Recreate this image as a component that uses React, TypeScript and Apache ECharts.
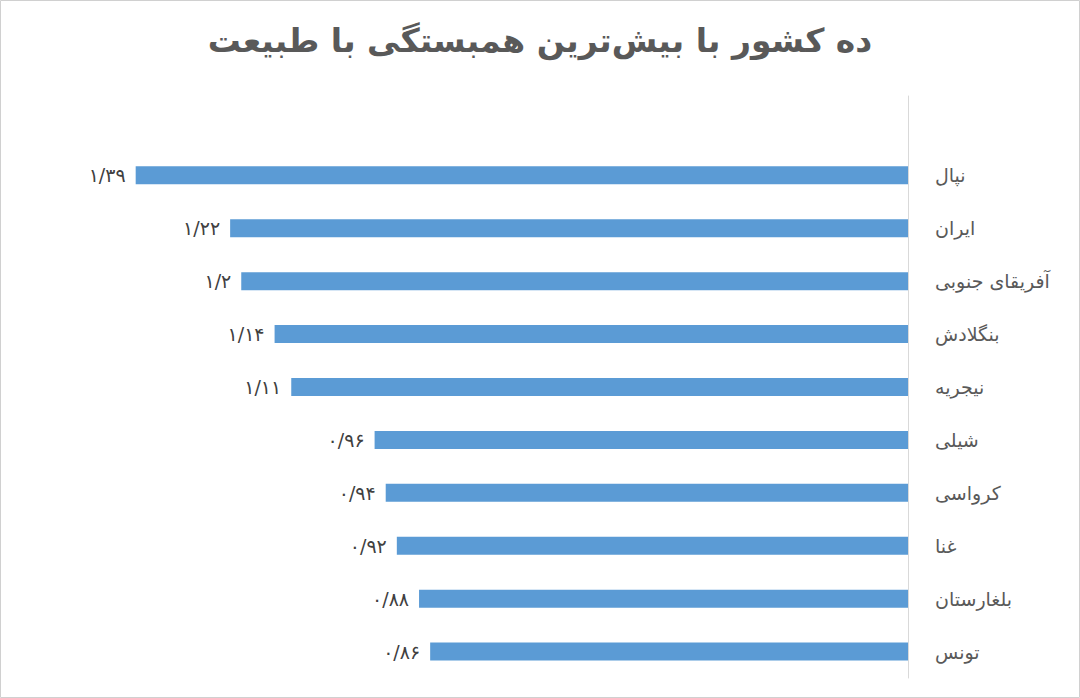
import * as echarts from "echarts";
import React, { useEffect, useRef } from "react";

// the top row is empty in the original chart (blank row above Nepal)
const countries = [
  "",
  "نپال",
  "ایران",
  "آفریقای جنوبی",
  "بنگلادش",
  "نیجریه",
  "شیلی",
  "کرواسی",
  "غنا",
  "بلغارستان",
  "تونس",
];
const scores = [null, 1.39, 1.22, 1.2, 1.14, 1.11, 0.96, 0.94, 0.92, 0.88, 0.86];

const chartTitle = "ده کشور با بیش‌ترین همبستگی با طبیعت";

// Persian digits, "/" as decimal separator (fa-IR locale)
const faDigits = "۰۱۲۳۴۵۶۷۸۹";
const toPersian = (v: number) =>
  String(v)
    .replace(/[0-9]/g, (d) => faDigits[+d])
    .replace(".", "/");

const App: React.FC = () => {
  const chartRef = useRef<HTMLDivElement | null>(null);

  useEffect(() => {
    const chart = echarts.init(chartRef.current, null, { renderer: "svg" });
    chart.setOption({
      animation: false,
      backgroundColor: "#ffffff",
      textStyle: { fontFamily: "DejaVu Sans" },
      title: {
        text: chartTitle,
        left: "center",
        top: 19,
        textStyle: {
          fontSize: 33,
          fontWeight: "bold",
          color: "#595959",
          fontFamily: "DejaVu Sans",
        },
      },
      graphic: [
        {
          type: "rect",
          shape: { x: 0.5, y: 0.5, width: 1079, height: 697 },
          style: { fill: "none", stroke: "#d0d0d0", lineWidth: 1 },
          silent: true,
        },
      ],
      grid: { left: 19, right: 172, top: 96, bottom: 20 },
      xAxis: {
        type: "value",
        min: 0,
        max: 1.6,
        inverse: true,
        show: false,
      },
      yAxis: {
        type: "category",
        data: countries,
        inverse: true,
        position: "right",
        axisLine: { show: true, lineStyle: { color: "#d9d9d9", width: 1 } },
        axisTick: { show: false },
        axisLabel: {
          margin: 27,
          fontSize: 19,
          color: "#595959",
          fontFamily: "DejaVu Sans",
        },
      },
      series: [
        {
          type: "bar",
          data: scores,
          barWidth: 18,
          itemStyle: { color: "#5b9bd5" },
          label: {
            show: true,
            position: "left",
            distance: 10,
            fontSize: 19,
            color: "#404040",
            fontFamily: "DejaVu Sans",
            formatter: (p: any) => toPersian(p.value),
          },
        },
      ],
    });

    return () => {
      chart.dispose();
    };
  }, []);

  return (
    <div
      ref={chartRef}
      style={{ position: "fixed", left: 0, top: 0, width: "1080px", height: "698px" }}
    ></div>
  );
};

export default App;
